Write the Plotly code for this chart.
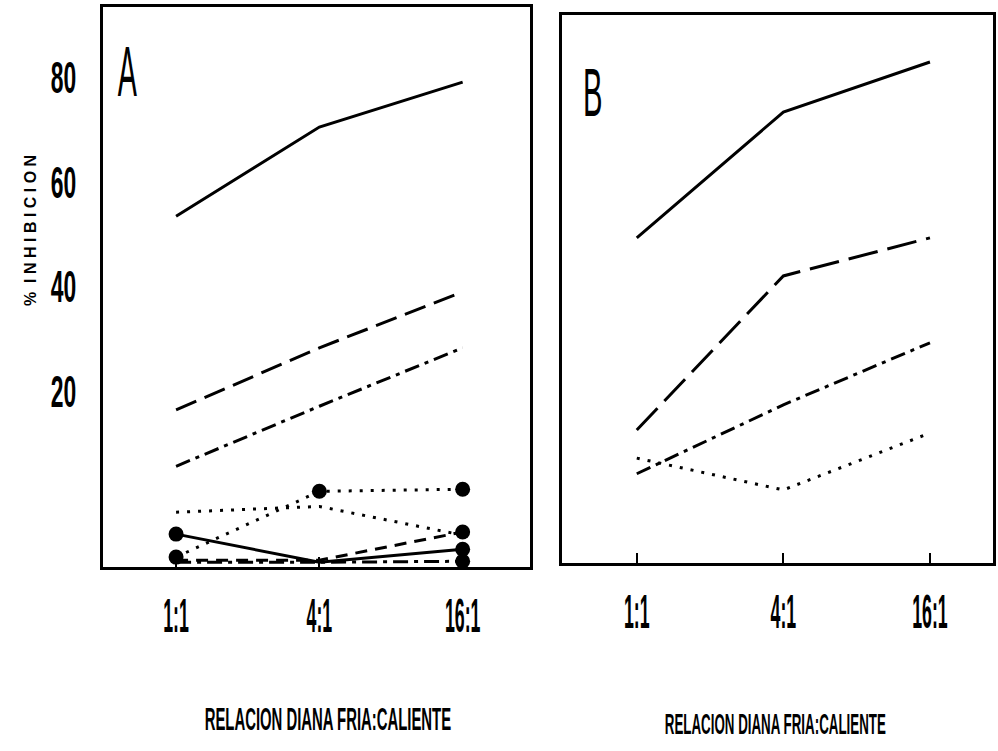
import plotly.graph_objects as go

# Ratios of cold to hot target cells
ratios = ["1:1", "4:1", "16:1"]
y_ticks = [20, 40, 60, 80]

# Panel A: % inhibition, plain curves
a_solid = [53.5, 70.6, 79.2]
a_dash = [16.4, 28.3, 39.0]
a_dashdot = [5.6, 17.1, 28.3]
a_dot = [-3.2, -2.1, -7.6]
# Panel A: curves with filled circles
a_solid_m = [-7.4, -12.8, -10.3]
a_dot_m = [-11.8, 0.8, 1.2]
a_dash_m = [-12.4, -12.4, -7.0]
a_dashdot_m = [-12.8, -12.8, -12.6]

# Panel B: % inhibition
b_solid = [48.6, 72.7, 82.3]
b_dash = [11.8, 41.3, 48.6]
b_dashdot = [3.4, 16.6, 28.5]
b_dot = [6.4, 0.3, 11.2]

SANS = "Liberation Sans, Arial, Helvetica, sans-serif"
DASH = "22px,9px"
DASHDOT = "15px,6px,4px,6px"
DOT = "3px,8px"
MED_DASH = "12px,8px"

fig = go.Figure()


def add_line(x_ax, y_ax, vals, dash, width=3, markers=None):
    mode = "lines+markers" if markers is not None else "lines"
    fig.add_trace(go.Scatter(
        x=ratios, y=vals, mode=mode, xaxis=x_ax, yaxis=y_ax,
        line=dict(color="black", width=width, dash=dash),
        marker=dict(color="black", opacity=1,
                    size=markers if markers is not None else 0,
                    line=dict(width=0)),
        showlegend=False, cliponaxis=False,
    ))


# Panel A
add_line("x", "y", a_solid, "solid")
add_line("x", "y", a_dash, DASH)
add_line("x", "y", a_dashdot, DASHDOT)
add_line("x", "y", a_dot, DOT)
add_line("x", "y", a_solid_m, "solid", markers=[15, 0, 15])
add_line("x", "y", a_dot_m, DOT, markers=[15, 15, 15])
add_line("x", "y", a_dash_m, MED_DASH, markers=[0, 0, 15])
add_line("x", "y", a_dashdot_m, DASHDOT, markers=[0, 0, 15])

# Panel B
add_line("x2", "y2", b_solid, "solid")
add_line("x2", "y2", b_dash, "30px,10px")
add_line("x2", "y2", b_dashdot, DASHDOT)
add_line("x2", "y2", b_dot, DOT)

W, H = 998, 751
frame = dict(showline=True, linecolor="black", linewidth=3, mirror=True,
             showgrid=False, zeroline=False)
xtick_font = dict(family=SANS, size=48, color="black", weight="bold")

fig.update_layout(
    width=W, height=H,
    margin=dict(l=0, r=0, t=0, b=0),
    paper_bgcolor="white", plot_bgcolor="white",
    xaxis=dict(domain=[103 / W, 530 / W], type="category", range=[-0.51, 2.47],
               tickvals=ratios, ticktext=ratios, ticks="inside", ticklen=10,
               tickwidth=1.5, tickcolor="black", ticklabelstandoff=4,
               tickfont=xtick_font, anchor="y", **frame),
    yaxis=dict(domain=[1 - 567 / H, 1 - 7 / H], range=[-13.7, 93.6],
               tickvals=y_ticks, ticks="", ticklabelstandoff=15,
               tickfont=dict(family=SANS, size=44, color="black", weight="bold"),
               anchor="x", **frame),
    xaxis2=dict(domain=[562 / W, 993 / W], type="category", range=[-0.51, 2.43],
                tickvals=ratios, ticktext=ratios, ticks="inside", ticklen=10,
                tickwidth=1.5, tickcolor="black", ticklabelstandoff=4,
                tickfont=xtick_font, anchor="y2", **frame),
    yaxis2=dict(domain=[1 - 563 / H, 1 - 15 / H], range=[-13.7, 91.3],
                showticklabels=False, ticks="", anchor="x2", **frame),
)

# Panel letters (annotations 0 and 1)
fig.add_annotation(text="A", x=127.5 / W, y=1 - 72 / H, xref="paper", yref="paper",
                   xanchor="center", yanchor="middle", showarrow=False,
                   font=dict(family=SANS, size=70, color="black"))
fig.add_annotation(text="B", x=592.5 / W, y=1 - 92 / H, xref="paper", yref="paper",
                   xanchor="center", yanchor="middle", showarrow=False,
                   font=dict(family=SANS, size=68, color="black"))

# Axis titles (annotations 2, 3, 4)
fig.add_annotation(text="%  I N H I B I C I O N", x=30 / W, y=1 - 231 / H,
                   xref="paper", yref="paper", textangle=-90, showarrow=False,
                   xanchor="center", yanchor="middle",
                   font=dict(family=SANS, size=16, color="black", weight="bold"))
fig.add_annotation(text="RELACION DIANA FRIA:CALIENTE", x=328 / W, y=1 - 719 / H,
                   xref="paper", yref="paper", showarrow=False,
                   xanchor="center", yanchor="middle",
                   font=dict(family=SANS, size=31, color="black", weight="bold"))
fig.add_annotation(text="RELACION DIANA FRIA:CALIENTE", x=775 / W, y=1 - 724 / H,
                   xref="paper", yref="paper", showarrow=False,
                   xanchor="center", yanchor="middle",
                   font=dict(family=SANS, size=29, color="black", weight="bold"))

# Narrow the lettering horizontally, keeping each label's anchor point in place
squeeze_js = """
var gd = document.getElementById('{plot_id}');
function squeeze(sel, s, pivot) {
  gd.querySelectorAll(sel).forEach(function (t) {
    var b = t.getBBox();
    var px = pivot === 'right' ? b.x + b.width : b.x + b.width / 2;
    var tr = t.getAttribute('transform') || '';
    t.setAttribute('transform', tr + ' translate(' + px + ',0) scale(' + s +
                   ',1) translate(' + (-px) + ',0)');
  });
}
squeeze('.xtick text', 0.37, 'center');
squeeze('.x2tick text', 0.37, 'center');
squeeze('.ytick text', 0.52, 'right');
squeeze('.annotation[data-index="0"] .annotation-text', 0.41, 'center');
squeeze('.annotation[data-index="1"] .annotation-text', 0.43, 'center');
squeeze('.annotation[data-index="3"] .annotation-text', 0.48, 'center');
squeeze('.annotation[data-index="4"] .annotation-text', 0.46, 'center');
"""

fig.write_html("out.html", post_script=squeeze_js)
